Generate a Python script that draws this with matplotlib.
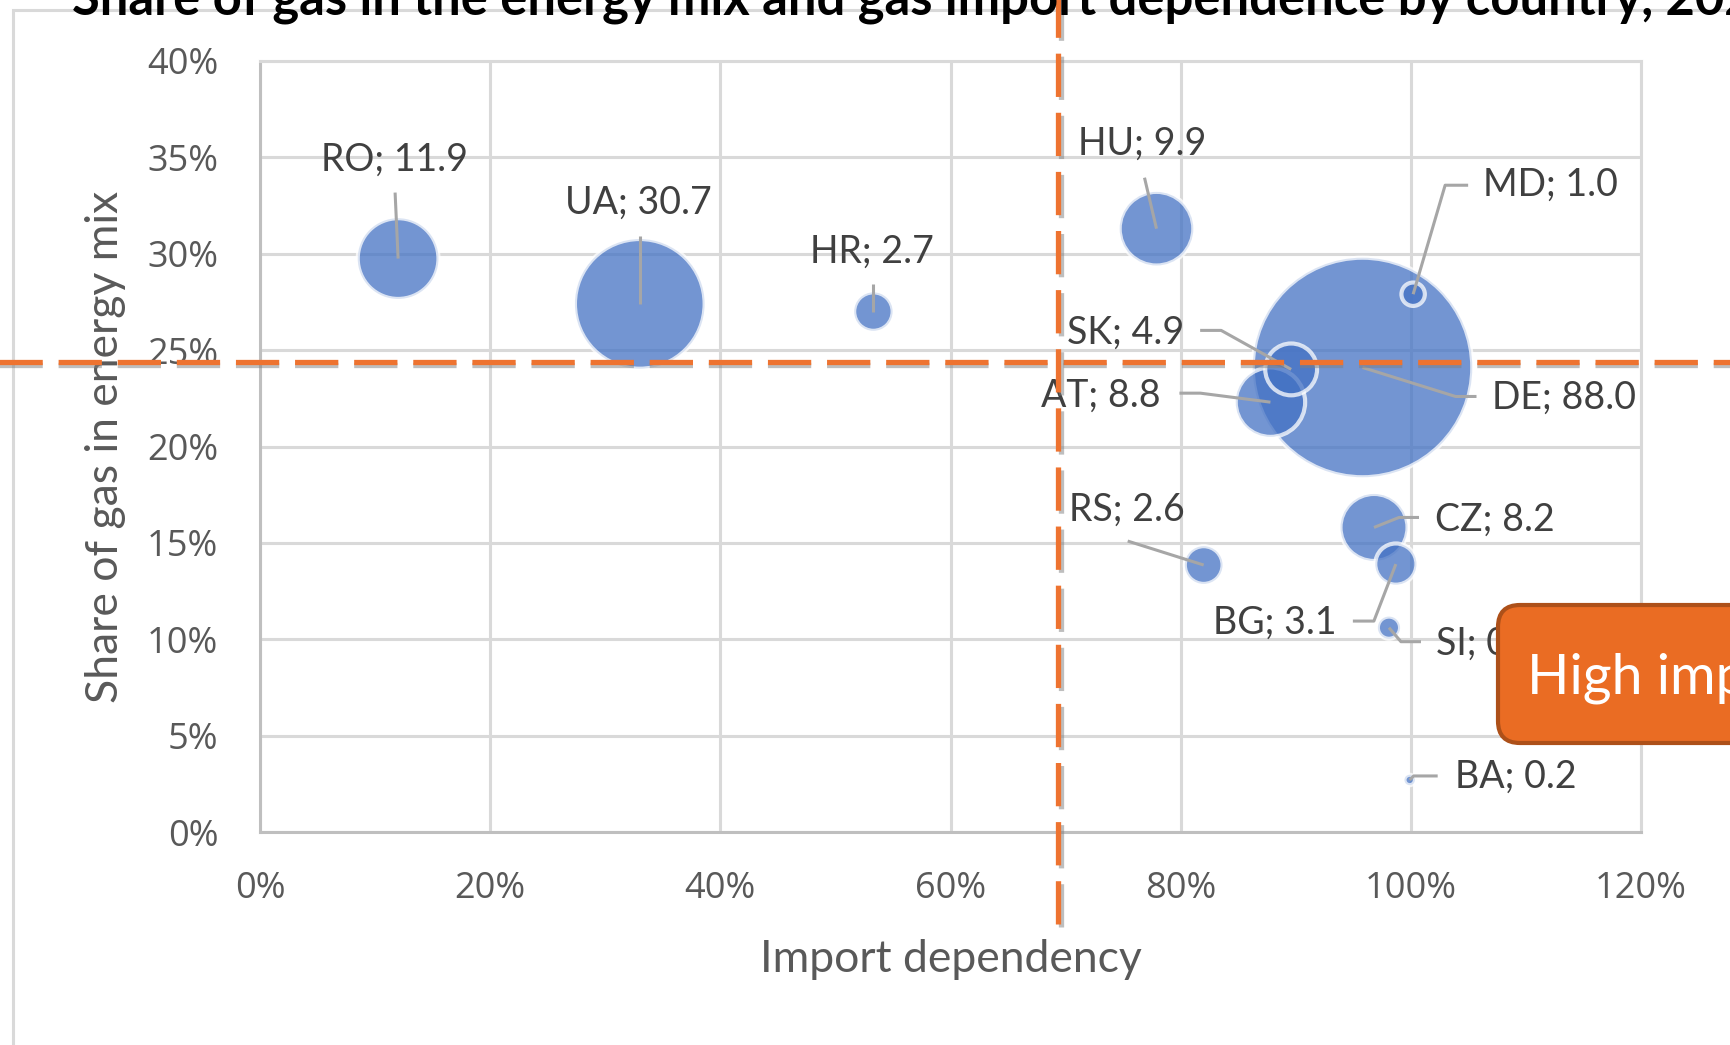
import matplotlib
matplotlib.use("Agg")
import matplotlib.pyplot as plt
import numpy as np
from matplotlib.ticker import PercentFormatter, FixedLocator
from matplotlib.patches import FancyBboxPatch, Rectangle
from matplotlib.transforms import IdentityTransform
from matplotlib.lines import Line2D
import matplotlib.patheffects as pe

# ---------------- data ----------------
countries = ["RO", "UA", "HR", "HU", "MD", "DE", "SK", "AT", "CZ", "BG", "RS", "SI", "BA"]
import_dependency = [0.120, 0.330, 0.533, 0.779, 1.002, 0.958, 0.896, 0.878, 0.968, 0.987, 0.820, 0.981, 0.999]
gas_share = [0.2975, 0.274, 0.270, 0.313, 0.279, 0.241, 0.240, 0.223, 0.158, 0.139, 0.1385, 0.106, 0.027]
consumption_bcm = [11.9, 30.7, 2.7, 9.9, 1.0, 88.0, 4.9, 8.8, 8.2, 3.1, 2.6, 0.9, 0.2]

avg_import_dependency = 0.693
avg_gas_share = 0.244

x_ticks = [0.0, 0.2, 0.4, 0.6, 0.8, 1.0, 1.2]
y_ticks = [0.0, 0.05, 0.10, 0.15, 0.20, 0.25, 0.30, 0.35, 0.40]

title = "Share of gas in the energy mix and gas import dependence by country, 2021"
x_title = "Import dependency"
y_title = "Share of gas in energy mix"
box_text = "High import dependency"

# ---------------- layout (pixels, y measured downward from point) ----------------
label_layout = {
    "RO": dict(ha="center", off=(-4, -99), leader=[(-3, -66)]),
    "UA": dict(ha="center", off=(-1, -101), leader=[(0, -68)]),
    "HR": dict(ha="center", off=(-1, -60), leader=[(0, -28)]),
    "HU": dict(ha="center", off=(-14, -85), leader=[(-12, -51)]),
    "MD": dict(ha="left", off=(70, -109), leader=[(55, -109), (32, -109)]),
    "SK": dict(ha="right", off=(-107, -37), leader=[(-91, -39), (-70, -39)]),
    "AT": dict(ha="right", off=(-110, -6), leader=[(-91, -9), (-70, -9)]),
    "DE": dict(ha="left", off=(130, 30), leader=[(114, 29), (93, 29)]),
    "RS": dict(ha="center", off=(-77, -55), leader=[(-76, -24)]),
    "CZ": dict(ha="left", off=(61, -8), leader=[(45, -10), (25, -10)]),
    "BG": dict(ha="right", off=(-59, 59), leader=[(-43, 57), (-22, 57)]),
    "SI": dict(ha="left", off=(47, 16), leader=[(32, 14), (12, 14)]),
    "BA": dict(ha="left", off=(45, -3), leader=[(28, -4), (4, -4)]),
}

W, H = 1730, 1045
fig = plt.figure(figsize=(W / 100, H / 100), dpi=100)
fig.patch.set_facecolor("white")

ax = fig.add_axes([260 / W, 1 - 832 / H, (1641 - 260) / W, (832 - 61) / H])
ax.set_xlim(0, 1.2)
ax.set_ylim(0, 0.4)

TICK_FONT = "Open Sans"
LABEL_FONT = "Lato"
grey_txt = "#595959"

ax.xaxis.set_major_locator(FixedLocator(x_ticks))
ax.yaxis.set_major_locator(FixedLocator(y_ticks))
ax.xaxis.set_major_formatter(PercentFormatter(1.0, decimals=0))
ax.yaxis.set_major_formatter(PercentFormatter(1.0, decimals=0))
ax.tick_params(axis="both", length=0, labelsize=26, labelcolor=grey_txt)
ax.tick_params(axis="x", pad=28)
ax.tick_params(axis="y", pad=30)
for lab in ax.get_xticklabels() + ax.get_yticklabels():
    lab.set_family(TICK_FONT)

ax.grid(True, color="#D9D9D9", lw=2.2)
ax.set_axisbelow(True)
for side in ["left", "bottom"]:
    ax.spines[side].set_color("#BFBFBF")
    ax.spines[side].set_linewidth(2.2)
for side in ["top", "right"]:
    ax.spines[side].set_color("#D9D9D9")
    ax.spines[side].set_linewidth(2.2)

ax.set_xlabel(x_title, fontsize=32, color=grey_txt, family=LABEL_FONT)
ax.set_ylabel(y_title, fontsize=32, color=grey_txt, family=LABEL_FONT)
ax.xaxis.set_label_coords(0.5, (832 - 959) / 771)
ax.xaxis.label.set_va("center")
ax.yaxis.set_label_coords((106 - 260) / 1381, 0.5)
ax.yaxis.label.set_va("center")

# bubbles (largest drawn first, as Excel shows smaller on top)
xs = np.array(import_dependency)
ys = np.array(gas_share)
vs = np.array(consumption_bcm)
order = np.argsort(vs)[::-1]
K = 284.0
ax.scatter(xs[order], ys[order], s=vs[order] * K, c="#4472C4", alpha=0.75,
           edgecolors="white", linewidths=3, zorder=3)

# labels and leader lines
ident = IdentityTransform()
for c, x, y, v in zip(countries, import_dependency, gas_share, consumption_bcm):
    px, py = ax.transData.transform((x, y))
    lay = label_layout[c]
    verts = lay["leader"] + [(0, 0)]
    lx = [px + dx for dx, dy in verts]
    ly = [py - dy for dx, dy in verts]
    ln = Line2D(lx, ly, color="#A6A6A6", lw=2.2, transform=ident, zorder=4,
                solid_capstyle="butt")
    ax.add_line(ln)
    ln.set_clip_on(False)
    ox, oy = lay["off"]
    ax.text(px + ox, py - oy, f"{c}; {v:.1f}", transform=ident, ha=lay["ha"],
            va="center", fontsize=27, color="#404040", family=LABEL_FONT,
            zorder=5, clip_on=False)

# average threshold lines
dash_kw = dict(color="#EE7330", lw=3.8, dashes=(8.2, 3.0), clip_on=False, zorder=6,
               path_effects=[pe.SimpleLineShadow(offset=(2.5, -2.5), shadow_color="#7f7f7f",
                                                 alpha=0.5),
                             pe.Normal()])
ax.axhline(avg_gas_share, xmin=-0.2, xmax=1.15, **dash_kw)
ax.axvline(avg_import_dependency, ymin=(832 - 924) / 771, ymax=1.1, **dash_kw)

# outer chart border
fig.add_artist(Rectangle((12.5, -100), 3000, 1035 + 100, fill=False, ec="#D9D9D9",
                         lw=2.2, transform=ident, zorder=-1))

# title
fig.text(72, H - 14, title, transform=ident, fontsize=36.5, fontweight="bold",
         family=LABEL_FONT, va="baseline", ha="left", color="black", zorder=10)

# orange callout box
fig.add_artist(FancyBboxPatch((1498, H - 743), 400, 743 - 605,
                              boxstyle="round,pad=0,rounding_size=22",
                              fc="#EA6C23", ec="#AD5019", lw=3, transform=ident, zorder=8))
fig.text(1527, H - 693, box_text, transform=ident, fontsize=40, color="white",
         family=LABEL_FONT, va="baseline", ha="left", zorder=9)

fig.savefig("out.png", dpi=100)
